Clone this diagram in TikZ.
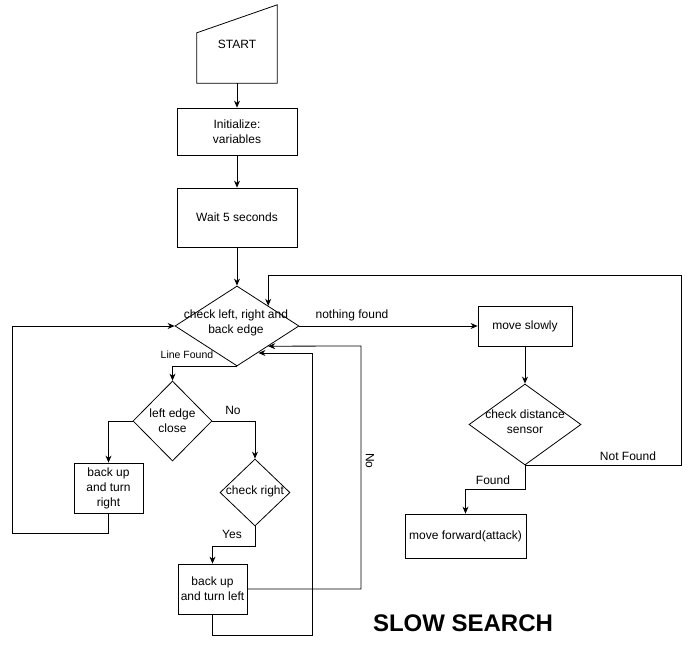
\documentclass[tikz,border=0pt]{standalone}
\usepackage{fontspec}
\setmainfont{Liberation Sans}
\usetikzlibrary{shapes.geometric,arrows.meta}

\tikzset{
  box/.style={draw,line width=.8pt,align=center,inner sep=1pt},
  decision/.style={draw,line width=.8pt,shape=diamond,inner sep=0pt},
  arr/.style={line width=.8pt,-{Stealth[length=7pt,width=6pt]}},
  ln/.style={line width=.8pt},
  lbl/.style={font=\fontsize{12}{15}\selectfont},
}

\begin{document}
\begin{tikzpicture}[x=1pt,y=-1pt,font=\fontsize{12}{15}\selectfont]
\useasboundingbox (0,0) rectangle (694,669);
% start and setup
\node[minimum width=80pt,minimum height=78pt,inner sep=0pt] (start) at (237,44) {START};
\draw[ln] (start.south west) -- ([yshift=-28pt]start.north west) -- (start.north east) -- (start.south east) -- cycle;
\node[box,minimum width=120pt,minimum height=47pt] (init) at (237,131.5) {Initialize:\\variables};
\node[box,minimum width=120pt,minimum height=59pt] (wait) at (237,217.5) {Wait 5 seconds};
% edge check
\node[decision,minimum width=124pt,minimum height=80pt] (chk) at (237,326) {};
\node[align=center] at (236,323) {check left, right and\\back edge};
\node[decision,minimum width=79pt,minimum height=80pt] (lec) at (172.5,421) {};
\node[align=center] at (172.5,421) {left edge\\close};
\node[box,minimum width=69pt,minimum height=50pt] (btr) at (108.5,488) {back up\\and turn\\right};
\node[decision,minimum width=70pt,minimum height=67pt] (cr) at (255,492.5) {};
\node at (255,491) {check right};
\node[box,minimum width=69pt,minimum height=50pt] (btl) at (212.5,589) {back up\\and turn left};
% search branch
\node[box,minimum width=94pt,minimum height=40pt] (slow) at (525,326) {move slowly};
\node[decision,minimum width=112pt,minimum height=81pt] (dist) at (525,424.5) {};
\node[align=center] at (525,422) {check distance\\sensor};
\node[box,minimum width=121pt,minimum height=44pt] (fwd) at (465.5,536) {move forward(attack)};
\coordinate (loopR) at (681,275);
\coordinate (loopL) at (12,326);
\coordinate (noR) at (361,346);
\coordinate (backR) at (312,353);
% connectors
\draw[arr] (start.south) -- (init.north);
\draw[arr] (init.south) -- (wait.north);
\draw[arr] (wait.south) -- (chk.north);
\draw[arr] (chk.east) -- (slow.west);
\draw[arr] (slow.south) -- (dist.north);
\draw[arr] (dist.south) -| (loopR) -| (chk.north east);
\draw[arr] (dist.south) -- ++(0,24) -| (fwd.north);
\draw[arr] (chk.south) -| (lec.north);
\draw[arr] (lec.west) -| (btr.north);
\draw[arr] (lec.east) -| (cr.north);
\draw[arr] (btr.south) -- ++(0,20) -| (loopL) -- (chk.west);
\draw[arr] (cr.south) -- ++(0,20) -| (btl.north);
\draw[arr] (btl.east) -| (noR) -- (chk.south east);
\draw[arr] (btl.south) -- ++(0,21) -| (backR) -- (backR -| chk.-51);
% labels
\node[lbl] at (352,315) {nothing found};
\node[lbl] at (628,456) {Not Found};
\node[lbl] at (493,480) {Found};
\node[font=\fontsize{10.5}{12}\selectfont] at (187,355) {Line Found};
\node[lbl] at (233,410) {No};
\node[lbl] at (232,534) {Yes};
\node[lbl,rotate=-90] at (370,461) {No};
\node[font=\fontsize{24}{28}\selectfont\bfseries] at (463,623) {SLOW SEARCH};
\end{tikzpicture}
\end{document}
